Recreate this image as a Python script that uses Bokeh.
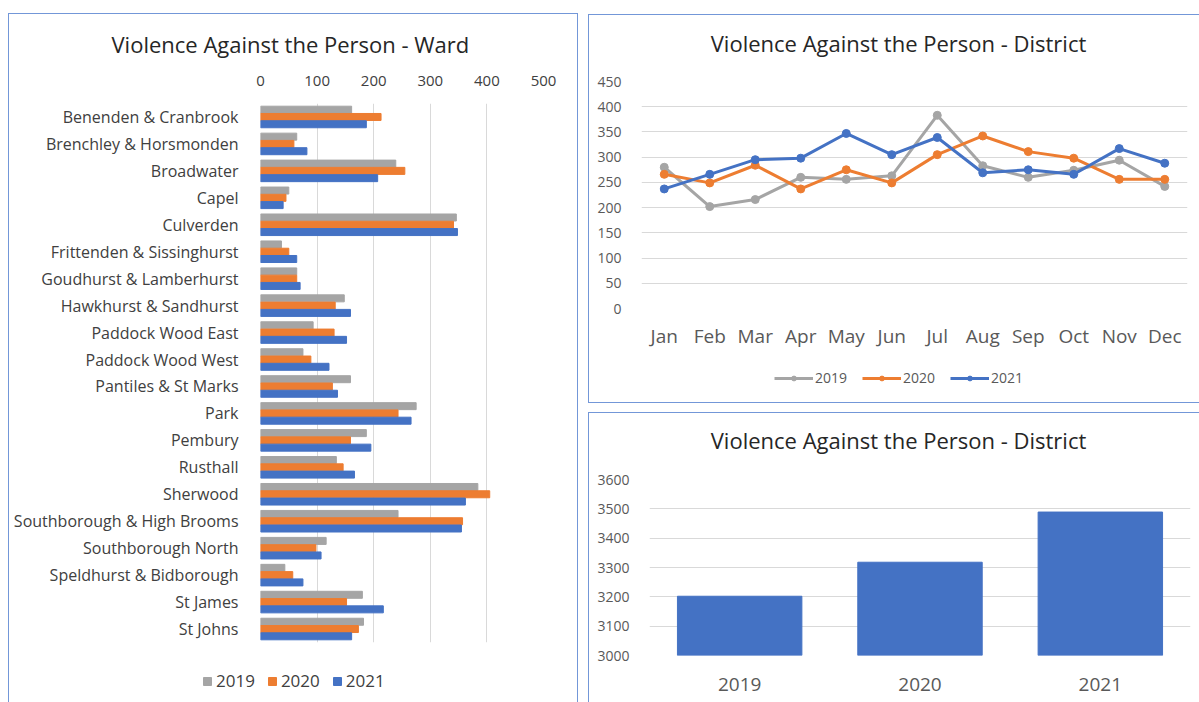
from bokeh.plotting import figure
from bokeh.models import (ColumnDataSource, FactorRange, Range1d, FixedTicker,
                          Legend, LegendItem, Spacer, Label)
from bokeh.layouts import row, column
from bokeh.transform import dodge
from bokeh.embed import file_html
from bokeh.resources import INLINE

# ---------------- data ----------------
wards = ["Benenden & Cranbrook", "Brenchley & Horsmonden", "Broadwater", "Capel",
         "Culverden", "Frittenden & Sissinghurst", "Goudhurst & Lamberhurst",
         "Hawkhurst & Sandhurst", "Paddock Wood East", "Paddock Wood West",
         "Pantiles & St Marks", "Park", "Pembury", "Rusthall", "Sherwood",
         "Southborough & High Brooms", "Southborough North",
         "Speldhurst & Bidborough", "St James", "St Johns"]
ward_2019 = [161, 64, 239, 50, 346, 37, 64, 148, 93, 75, 159, 275, 187, 134, 384, 243, 116, 43, 180, 182]
ward_2020 = [213, 59, 255, 45, 341, 50, 64, 132, 130, 89, 127, 243, 159, 146, 405, 357, 98, 57, 152, 173]
ward_2021 = [187, 82, 207, 40, 348, 64, 70, 159, 152, 121, 136, 266, 195, 166, 362, 355, 107, 75, 217, 161]
ward_ticks = [0, 100, 200, 300, 400, 500]

months = ["Jan", "Feb", "Mar", "Apr", "May", "Jun", "Jul", "Aug", "Sep", "Oct", "Nov", "Dec"]
month_2019 = [280, 202, 216, 260, 256, 263, 383, 283, 260, 274, 294, 242]
month_2020 = [266, 249, 284, 237, 275, 249, 305, 342, 311, 298, 256, 256]
month_2021 = [237, 266, 295, 298, 347, 305, 339, 269, 275, 266, 317, 288]
month_ticks = [0, 50, 100, 150, 200, 250, 300, 350, 400, 450]

years = ["2019", "2020", "2021"]
year_totals = [3202, 3318, 3489]
total_ticks = [3000, 3100, 3200, 3300, 3400, 3500, 3600]

TITLE_WARD = "Violence Against the Person - Ward"
TITLE_DISTRICT = "Violence Against the Person - District"

NAN = float("nan")  # placeholder for legend-only renderers (draws nothing)

# ---------------- style ----------------
FONT = "Open Sans"
GREY, ORANGE, BLUE = "#A5A5A5", "#ED7D31", "#4472C4"
SERIES_COLORS = [GREY, ORANGE, BLUE]
BORDER = "1px solid #7397D8"
GRID = "#D9D9D9"
TITLE_COLOR = "#262626"
LABEL_DARK = "#404040"
LABEL = "#595959"


def no_align(f):
    try:
        f.frame_align = False
    except AttributeError:
        pass


def base_style(p):
    no_align(p)
    p.outline_line_color = None
    p.title.text_font = FONT
    p.title.text_font_size = "22px"
    p.title.text_font_style = "normal"
    p.title.text_color = TITLE_COLOR
    for ax in p.axis:
        ax.axis_line_color = None
        ax.major_tick_line_color = None
        ax.minor_tick_line_color = None
        ax.major_label_text_font = FONT


def strip_figure(width, height, styles):
    f = figure(width=width, height=height, x_range=Range1d(0, 1), y_range=Range1d(0, 1),
               x_axis_type=None, y_axis_type=None, output_backend="svg",
               toolbar_location=None, min_border=0)
    no_align(f)
    f.outline_line_color = None
    f.grid.visible = False
    f.styles = styles
    return f


def title_strip(width, height, text, cx, cy, styles):
    f = strip_figure(width, height, styles)
    f.add_layout(Label(x=cx, y=cy, x_units="screen", y_units="screen", text=text,
                       text_align="center", text_baseline="middle", text_font=FONT,
                       text_font_size="22px", text_color=TITLE_COLOR))
    return f


# ---------------- left: ward bars ----------------
src = ColumnDataSource(dict(ward=wards, a=ward_2019, b=ward_2020, c=ward_2021))
p1 = figure(width=570, height=647, y_range=FactorRange(*wards[::-1]),
            x_range=Range1d(0, ward_ticks[-1]), x_axis_location="above",
            title=TITLE_WARD,
            output_backend="svg", toolbar_location=None,
            min_border_left=251, min_border_right=36, min_border_top=89,
            min_border_bottom=19)
p1.hbar(y=dodge("ward", 0.27, range=p1.y_range), right="a", height=0.26,
        left=0, source=src, color=GREY)
p1.hbar(y=dodge("ward", 0.0, range=p1.y_range), right="b", height=0.26,
        left=0, source=src, color=ORANGE)
p1.hbar(y=dodge("ward", -0.27, range=p1.y_range), right="c", height=0.26,
        left=0, source=src, color=BLUE)
base_style(p1)
p1.title.align = "left"
p1.title.vertical_align = "top"
p1.title.standoff = 23
p1.title.offset = -149
p1.xaxis.ticker = FixedTicker(ticks=ward_ticks)
p1.xaxis.major_label_text_font_size = "15px"
p1.xaxis.major_label_text_color = LABEL_DARK
p1.xaxis.major_label_standoff = 12
p1.yaxis.major_label_text_font_size = "16px"
p1.yaxis.major_label_text_color = LABEL_DARK
p1.yaxis.major_label_standoff = 16
p1.ygrid.grid_line_color = None
p1.xgrid.grid_line_color = GRID
p1.xgrid.ticker = FixedTicker(ticks=ward_ticks)
p1.styles = {"border-left": BORDER, "border-top": BORDER, "border-right": BORDER}

# legend strip for the ward chart
lf1 = strip_figure(570, 42, {"border-left": BORDER, "border-right": BORDER})
items1 = []
for y, col in zip(years, SERIES_COLORS):
    r = lf1.hbar(y=[NAN], right=[NAN], left=[NAN], height=0.5, color=col)
    items1.append(LegendItem(label=y, renderers=[r]))
lf1.add_layout(Legend(items=items1, orientation="horizontal", location=(193, 10),
                      glyph_width=10, glyph_height=10, label_text_font=FONT,
                      label_text_font_size="17px", label_text_color=LABEL_DARK,
                      spacing=12, label_standoff=4, border_line_color=None,
                      background_fill_alpha=0, margin=0, padding=2), "center")

# ---------------- right top: monthly lines ----------------
t2 = title_strip(611, 57, TITLE_DISTRICT, 309, 30,
                 {"border-left": BORDER, "border-top": BORDER})
p2 = figure(width=611, height=284, x_range=FactorRange(*months),
            y_range=Range1d(0, month_ticks[-1]),
            output_backend="svg", toolbar_location=None,
            min_border_left=52, min_border_right=13, min_border_top=10,
            min_border_bottom=47)
for vals, col in zip([month_2019, month_2020, month_2021], SERIES_COLORS):
    p2.line(months, vals, line_width=3, color=col)
    p2.scatter(months, vals, size=8, color=col)
base_style(p2)
p2.yaxis.ticker = FixedTicker(ticks=month_ticks)
p2.yaxis.major_label_text_font_size = "14px"
p2.yaxis.major_label_text_color = LABEL
p2.yaxis.major_label_standoff = 14
p2.xaxis.major_label_text_font_size = "19px"
p2.xaxis.major_label_text_color = LABEL
p2.xaxis.major_label_standoff = 8
p2.xgrid.grid_line_color = None
p2.ygrid.grid_line_color = GRID
p2.ygrid.ticker = FixedTicker(ticks=month_ticks)
p2.styles = {"border-left": BORDER}

# legend strip for the monthly chart
lf2 = strip_figure(611, 48, {"border-left": BORDER, "border-bottom": BORDER})
items2 = []
for y, col in zip(years, SERIES_COLORS):
    ln = lf2.line([NAN], [NAN], line_width=3, color=col)
    mk = lf2.scatter([NAN], [NAN], size=8, color=col)
    items2.append(LegendItem(label=y, renderers=[ln, mk]))
lf2.add_layout(Legend(items=items2, orientation="horizontal", location=(185, 16),
                      glyph_width=39, glyph_height=12, label_text_font=FONT,
                      label_text_font_size="14px", label_text_color=LABEL,
                      spacing=15, label_standoff=2, border_line_color=None,
                      background_fill_alpha=0, margin=0, padding=2), "center")

# ---------------- right bottom: yearly totals ----------------
t3 = title_strip(611, 57, TITLE_DISTRICT, 309, 31,
                 {"border-left": BORDER, "border-top": BORDER})
p3 = figure(width=611, height=233, x_range=FactorRange(*years),
            y_range=Range1d(total_ticks[0], total_ticks[-1]),
            output_backend="svg", toolbar_location=None,
            min_border_left=60, min_border_right=10, min_border_top=10,
            min_border_bottom=47)
p3.vbar(x=years, top=year_totals, bottom=total_ticks[0], width=0.69, color=BLUE)
base_style(p3)
p3.yaxis.ticker = FixedTicker(ticks=total_ticks)
p3.yaxis.major_label_text_font_size = "14px"
p3.yaxis.major_label_text_color = LABEL
p3.yaxis.major_label_standoff = 14
p3.xaxis.major_label_text_font_size = "19px"
p3.xaxis.major_label_text_color = LABEL
p3.xaxis.major_label_standoff = 16
p3.xgrid.grid_line_color = None
p3.ygrid.grid_line_color = GRID
p3.ygrid.ticker = FixedTicker(ticks=total_ticks)
p3.styles = {"border-left": BORDER}

layout = row(Spacer(width=8), column(Spacer(height=13), p1, lf1), Spacer(width=10),
             column(Spacer(height=14), t2, p2, lf2, Spacer(height=9), t3, p3))

open("out.html", "w").write(file_html(layout, INLINE))
